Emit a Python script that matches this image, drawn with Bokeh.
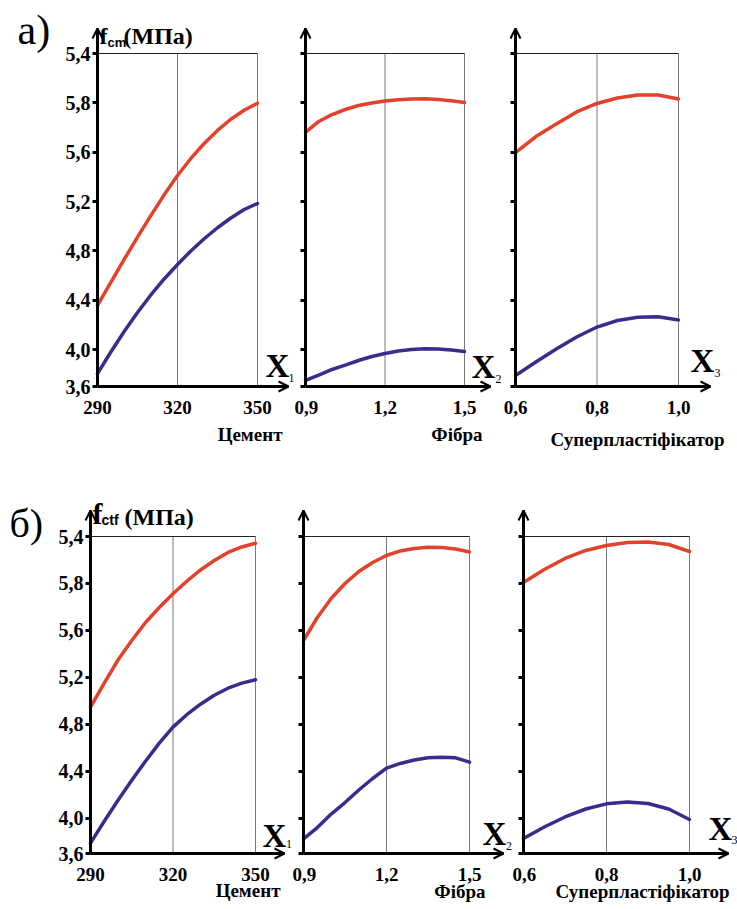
from bokeh.plotting import figure
from bokeh.layouts import row, column
from bokeh.models import Range1d, FixedTicker, Label, Arrow, OpenHead
from bokeh.embed import file_html
from bokeh.resources import INLINE

# ---------------- data ----------------
Y_TICKS = [3.7, 4.0, 4.4, 4.8, 5.2, 5.6, 6.0, 6.4]
Y_LABELS = ["3,6", "4,0", "4,4", "4,8", "5,2", "5,6", "5,8", "5,4"]

CEM_TICKS = [290, 320, 350]
CEM_LABELS = ["290", "320", "350"]
FIB_TICKS = [0.9, 1.2, 1.5]
FIB_LABELS = ["0,9", "1,2", "1,5"]
SP_TICKS = [0.6, 0.8, 1.0]
SP_LABELS = ["0,6", "0,8", "1,0"]

CEM_X = [290, 295, 300, 305, 310, 315, 320, 325, 330, 335, 340, 345, 350]
FIB_X = [0.9, 0.95, 1.0, 1.05, 1.1, 1.15, 1.2, 1.25, 1.3, 1.35, 1.4, 1.45, 1.5]
SP_X = [0.6, 0.65, 0.7, 0.75, 0.8, 0.85, 0.9, 0.95, 1.0]

# а) f_cm
CEM_FCM_RED = [4.357, 4.545, 4.730, 4.911, 5.086, 5.254, 5.411, 5.549, 5.670, 5.776, 5.867, 5.940, 5.997]
CEM_FCM_BLUE = [3.805, 3.980, 4.146, 4.300, 4.442, 4.572, 4.689, 4.799, 4.898, 4.987, 5.066, 5.135, 5.184]
FIB_FCM_RED = [5.760, 5.849, 5.905, 5.946, 5.978, 5.999, 6.015, 6.025, 6.031, 6.033, 6.027, 6.017, 6.003]
FIB_FCM_BLUE = [3.749, 3.793, 3.838, 3.874, 3.911, 3.943, 3.968, 3.988, 4.000, 4.006, 4.004, 3.996, 3.984]
SP_FCM_RED = [5.597, 5.727, 5.828, 5.926, 5.995, 6.039, 6.064, 6.064, 6.031]
SP_FCM_BLUE = [3.789, 3.898, 4.004, 4.101, 4.182, 4.235, 4.261, 4.265, 4.239]

# б) f_ctf
CEM_FCTF_RED = [4.946, 5.152, 5.348, 5.514, 5.668, 5.795, 5.912, 6.019, 6.115, 6.196, 6.264, 6.311, 6.343]
CEM_FCTF_BLUE = [3.788, 3.975, 4.154, 4.324, 4.486, 4.640, 4.776, 4.882, 4.972, 5.048, 5.108, 5.151, 5.180]
FIB_FCTF_RED = [5.514, 5.710, 5.872, 6.000, 6.102, 6.179, 6.238, 6.277, 6.298, 6.309, 6.306, 6.294, 6.268]
FIB_FCTF_BLUE = [3.825, 3.921, 4.036, 4.134, 4.241, 4.339, 4.427, 4.467, 4.496, 4.515, 4.520, 4.515, 4.478]
SP_FCTF_RED = [6.008, 6.119, 6.213, 6.281, 6.323, 6.349, 6.353, 6.332, 6.272]
SP_FCTF_BLUE = [3.828, 3.926, 4.011, 4.079, 4.123, 4.139, 4.126, 4.079, 3.990]

# ---------------- style / layout ----------------
RED = "#e2412b"
BLUE = "#3b2b8c"
SERIF = "Liberation Serif"
SANS = "Liberation Sans"

ROW_A = dict(top=0, bottom=460, axis=386, tick_top=53, arrow_top=28)
ROW_B = dict(top=460, bottom=908, axis=853, tick_top=536, arrow_top=510)


def make_panel(geo, rg, xs, red, blue, xticks, xlabels, ylabels_on, texts):
    fig_l, fig_r, x0px, x2px, tip = geo
    xmin, xmid, xmax = xticks
    sx = (x2px - x0px) / (xmax - xmin)
    sy = (rg["axis"] - rg["tick_top"]) / (Y_TICKS[-1] - Y_TICKS[0])

    def dx(px):
        return xmin + (px - x0px) / sx

    def dy(py):
        return Y_TICKS[0] + (rg["axis"] - py) / sy

    p = figure(width=fig_r - fig_l, height=rg["bottom"] - rg["top"],
               x_range=Range1d(dx(fig_l), dx(fig_r)),
               y_range=Range1d(dy(rg["bottom"]), dy(rg["top"])),
               output_backend="svg", toolbar_location=None,
               min_border_left=0, min_border_right=0,
               min_border_top=0, min_border_bottom=0)
    p.outline_line_color = None
    p.background_fill_color = "white"
    p.border_fill_color = "white"
    p.xgrid.visible = False
    p.ygrid.visible = False

    x_tip = dx(tip)
    y_tip = dy(rg["arrow_top"])

    # x axis (placed at the bottom of the box)
    xa = p.xaxis[0]
    xa.fixed_location = Y_TICKS[0]
    xa.bounds = (xmin, x_tip)
    xa.ticker = FixedTicker(ticks=list(xticks), minor_ticks=[])
    xa.major_label_overrides = {t: l for t, l in zip(xticks, xlabels)}
    xa.major_tick_out = 0
    xa.major_tick_in = 0
    xa.minor_tick_out = 0
    xa.minor_tick_in = 0
    xa.axis_line_width = 3
    xa.axis_line_color = "black"
    xa.major_label_text_font = SERIF
    xa.major_label_text_font_style = "bold"
    xa.major_label_text_font_size = "19px"
    xa.major_label_text_color = "black"
    xa.major_label_standoff = 14

    # y axis (placed at the left of the box)
    ya = p.yaxis[0]
    ya.fixed_location = xmin
    ya.bounds = (Y_TICKS[0], y_tip)
    if ylabels_on:
        ya.ticker = FixedTicker(ticks=list(Y_TICKS), minor_ticks=[])
        ya.major_label_overrides = {t: l for t, l in zip(Y_TICKS, Y_LABELS)}
        ya.major_label_text_font = SERIF
        ya.major_label_text_font_style = "bold"
        ya.major_label_text_font_size = "20px"
        ya.major_label_text_color = "black"
        ya.major_label_standoff = 2
    else:
        ya.ticker = FixedTicker(ticks=[], minor_ticks=list(Y_TICKS))
    ya.major_tick_out = 5
    ya.major_tick_in = 0
    ya.major_tick_line_width = 3
    ya.major_tick_line_color = "black"
    ya.minor_tick_out = 5
    ya.minor_tick_in = 0
    ya.minor_tick_line_width = 3
    ya.minor_tick_line_color = "black"
    ya.axis_line_width = 3
    ya.axis_line_color = "black"

    # box lines
    p.segment(x0=[xmid, xmax], y0=[Y_TICKS[0]] * 2, x1=[xmid, xmax], y1=[Y_TICKS[-1]] * 2,
              line_color="#7a7a7a", line_width=1)
    p.segment(x0=[xmin], y0=[Y_TICKS[-1]], x1=[xmax], y1=[Y_TICKS[-1]],
              line_color="#222222", line_width=1)

    # curves
    p.line(xs, red, line_color=RED, line_width=3.5, line_cap="round", line_join="round")
    p.line(xs, blue, line_color=BLUE, line_width=3.5, line_cap="round", line_join="round")

    # arrows
    p.add_layout(Arrow(end=OpenHead(size=10, line_width=2, line_color="black"),
                       x_start=dx(tip - 12), y_start=Y_TICKS[0], x_end=x_tip, y_end=Y_TICKS[0],
                       line_width=2, line_color="black"))
    p.add_layout(Arrow(end=OpenHead(size=10, line_width=2, line_color="black"),
                       x_start=xmin, y_start=dy(rg["arrow_top"] + 12), x_end=xmin, y_end=y_tip,
                       line_width=2, line_color="black"))

    # texts: (text, x px, baseline px, size px, align, font, style)
    for (txt, px, py, size, align, font, style) in texts:
        yc = py - 0.34 * size
        p.add_layout(Label(x=dx(px), y=dy(yc), text=txt, text_font=font,
                           text_font_style=style, text_font_size=f"{size}px",
                           text_align=align, text_baseline="middle",
                           text_color="black"))
    return p


A_TEXTS1 = [("а)", 17, 44, 42, "left", SERIF, "normal"),
            ("f", 99, 44, 24, "left", SERIF, "bold"),
            ("cm", 107, 46, 13, "left", SANS, "bold"),
            ("(МПа)", 123, 44, 24, "left", SERIF, "bold"),
            ("X", 265, 377, 33, "left", SERIF, "bold"),
            ("1", 288, 382, 12, "left", SERIF, "normal"),
            ("Цемент", 282, 440, 19, "right", SERIF, "bold")]
A_TEXTS2 = [("X", 471, 378, 33, "left", SERIF, "bold"),
            ("2", 495, 383, 12, "left", SERIF, "normal"),
            ("Фібра", 482, 440, 19, "right", SERIF, "bold")]
A_TEXTS3 = [("X", 690, 372, 33, "left", SERIF, "bold"),
            ("3", 714, 377, 12, "left", SERIF, "normal"),
            ("Суперпластіфікатор", 550, 445, 19, "left", SERIF, "bold")]
B_TEXTS1 = [("б)", 9, 537, 40, "left", SERIF, "normal"),
            ("f", 92, 523, 30, "left", SERIF, "bold"),
            ("ctf", 101, 524, 14, "left", SANS, "bold"),
            ("(МПа)", 124, 525, 24, "left", SERIF, "bold"),
            ("X", 262, 847, 33, "left", SERIF, "bold"),
            ("1", 285.5, 848, 12, "left", SERIF, "normal"),
            ("Цемент", 280, 896, 19, "right", SERIF, "bold")]
B_TEXTS2 = [("X", 482, 845, 33, "left", SERIF, "bold"),
            ("2", 505.5, 850, 12, "left", SERIF, "normal"),
            ("Фібра", 485, 897, 19, "right", SERIF, "bold")]
B_TEXTS3 = [("X", 708, 840, 33, "left", SERIF, "bold"),
            ("3", 731, 844, 12, "left", SERIF, "normal"),
            ("Суперпластіфікатор", 555, 897, 19, "left", SERIF, "bold")]

a1 = make_panel((0, 294, 97, 257, 288), ROW_A, CEM_X, CEM_FCM_RED, CEM_FCM_BLUE,
                CEM_TICKS, CEM_LABELS, True, A_TEXTS1)
a2 = make_panel((294, 503, 305, 464, 490), ROW_A, FIB_X, FIB_FCM_RED, FIB_FCM_BLUE,
                FIB_TICKS, FIB_LABELS, False, A_TEXTS2)
a3 = make_panel((503, 737, 515, 678, 710), ROW_A, SP_X, SP_FCM_RED, SP_FCM_BLUE,
                SP_TICKS, SP_LABELS, False, A_TEXTS3)
b1 = make_panel((0, 292, 90, 255, 284), ROW_B, CEM_X, CEM_FCTF_RED, CEM_FCTF_BLUE,
                CEM_TICKS, CEM_LABELS, True, B_TEXTS1)
b2 = make_panel((292, 512, 303, 469, 503), ROW_B, FIB_X, FIB_FCTF_RED, FIB_FCTF_BLUE,
                FIB_TICKS, FIB_LABELS, False, B_TEXTS2)
b3 = make_panel((512, 737, 523, 689, 728), ROW_B, SP_X, SP_FCTF_RED, SP_FCTF_BLUE,
                SP_TICKS, SP_LABELS, False, B_TEXTS3)

layout = column(row(a1, a2, a3), row(b1, b2, b3))
open("out.html", "w").write(file_html(layout, INLINE))
